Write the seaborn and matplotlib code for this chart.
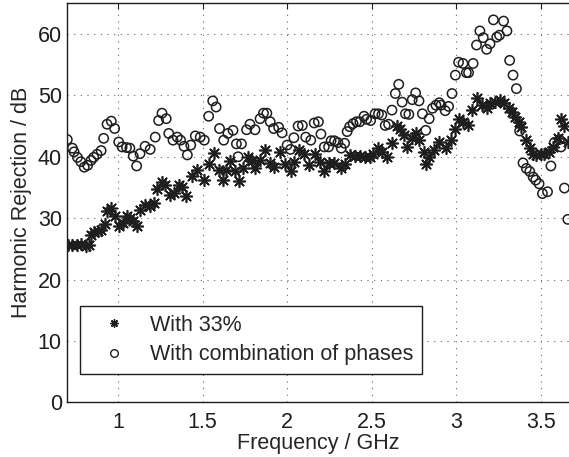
import numpy as np
import pandas as pd
import seaborn as sns
import matplotlib.pyplot as plt
from matplotlib.lines import Line2D

# Harmonic rejection
freq_33 = [0.705, 0.73, 0.76, 0.78, 0.81, 0.83, 0.84, 0.86, 0.88, 0.90, 0.92, 0.935, 0.96, 0.98,
           1.004, 1.03, 1.053, 1.07, 1.09, 1.11, 1.13, 1.16, 1.19, 1.21, 1.23, 1.26, 1.28, 1.305,
           1.33, 1.36, 1.38, 1.40, 1.437, 1.467, 1.506, 1.536, 1.565, 1.595, 1.62, 1.64, 1.66,
           1.69, 1.717, 1.74, 1.77, 1.79, 1.81, 1.84, 1.87, 1.90, 1.92, 1.96, 1.99, 2.02, 2.04,
           2.07, 2.10, 2.13, 2.165, 2.195, 2.22, 2.25, 2.28, 2.32, 2.34, 2.37, 2.40, 2.43, 2.46,
           2.49, 2.51, 2.54, 2.56, 2.59, 2.62, 2.65, 2.67, 2.69, 2.71, 2.74, 2.76, 2.78, 2.81,
           2.82, 2.84, 2.87, 2.90, 2.94, 2.97, 2.995, 3.014, 3.04, 3.07, 3.093, 3.12, 3.15, 3.18,
           3.20, 3.23, 3.26, 3.28, 3.31, 3.33, 3.35, 3.37, 3.385, 3.41, 3.435, 3.455, 3.47, 3.50,
           3.52, 3.55, 3.57, 3.60, 3.62, 3.64, 3.66]
rej_33 = [25.7, 25.7, 25.7, 25.8, 25.5, 25.6, 27.3, 27.7, 27.9, 28.0, 29.1, 31.1, 31.6, 30.3,
          28.8, 29.2, 30.3, 30.0, 29.5, 28.8, 31.4, 32.2, 31.9, 32.4, 34.8, 35.9, 35.4, 33.8,
          34.1, 35.4, 35.1, 33.6, 36.8, 37.8, 36.2, 38.9, 40.6, 37.8, 36.2, 37.9, 39.3,
          37.6, 36.1, 38.1, 39.9, 39.3, 38.1, 39.5, 41.1, 39.0, 38.4, 40.8, 38.9, 37.6, 39.2,
          41.1, 40.5, 38.6, 40.4, 39.2, 37.6, 39.0, 39.0, 38.1, 38.9, 40.3, 40.1, 40.1, 40.0,
          39.9, 40.4, 41.4, 40.7, 39.9, 42.3, 45.0, 44.6, 43.5, 41.6, 43.1, 43.9, 42.7, 40.8,
          38.8, 40.0, 41.1, 42.4, 41.4, 42.7, 44.6, 46.1, 45.7, 45.1, 47.6, 49.5, 48.4, 47.9,
          48.7, 48.9, 49.2, 48.7, 47.9, 47.3, 46.5, 45.7, 44.9, 42.7, 41.4, 40.5, 40.3, 40.4,
          40.5, 40.8, 41.6, 43.0, 46.2, 45.0, 42.4]

freq_comb = [0.70, 0.73, 0.74, 0.76, 0.78, 0.80, 0.82, 0.84, 0.856, 0.876, 0.90, 0.915, 0.935,
             0.96, 0.98, 1.004, 1.024, 1.05, 1.07, 1.09, 1.11, 1.13, 1.16, 1.19, 1.22, 1.24,
             1.26, 1.285, 1.30, 1.325, 1.35, 1.37, 1.39, 1.41, 1.43, 1.457, 1.486, 1.51, 1.536,
             1.56, 1.58, 1.60, 1.625, 1.65, 1.68, 1.70, 1.71, 1.73, 1.76, 1.78, 1.81, 1.84,
             1.86, 1.88, 1.90, 1.92, 1.95, 1.97, 2.00, 2.02, 2.04, 2.065, 2.09, 2.11, 2.14,
             2.16, 2.185, 2.20, 2.22, 2.245, 2.26, 2.28, 2.30, 2.32, 2.34, 2.355, 2.37, 2.39,
             2.41, 2.43, 2.455, 2.47, 2.494, 2.52, 2.54, 2.56, 2.58, 2.60, 2.62, 2.64, 2.66,
             2.68, 2.70, 2.72, 2.74, 2.76, 2.78, 2.80, 2.82, 2.84, 2.86, 2.88, 2.90, 2.91,
             2.935, 2.955, 2.975, 2.995, 3.014, 3.04, 3.06, 3.073, 3.10, 3.12, 3.14, 3.16,
             3.18, 3.20, 3.22, 3.24, 3.256, 3.28, 3.30, 3.316, 3.336, 3.356, 3.375, 3.395,
             3.415, 3.435, 3.455, 3.47, 3.49, 3.51, 3.54, 3.56, 3.58, 3.61, 3.62, 3.64, 3.66]
rej_comb = [42.8, 41.4, 40.8, 39.9, 39.2, 38.3, 38.6, 39.4, 39.9, 40.4, 41.0, 43.0, 45.3,
            45.8, 44.6, 42.4, 41.6, 41.5, 41.4, 40.1, 38.5, 40.5, 41.7, 41.2, 43.2, 45.9,
            47.1, 46.2, 43.8, 42.7, 43.2, 42.7, 41.7, 40.3, 41.9, 43.4, 43.2, 42.7, 46.6,
            49.1, 48.1, 44.6, 42.7, 43.8, 44.3, 42.1, 40.0, 42.1, 44.4, 45.3, 44.4, 46.2,
            47.1, 47.1, 45.7, 44.6, 44.8, 43.9, 41.9, 41.2, 43.1, 45.0, 45.1, 43.2, 42.7,
            45.5, 45.7, 43.7, 41.6, 41.6, 42.6, 42.6, 42.3, 41.4, 42.2, 44.1, 44.9, 45.4,
            45.7, 45.7, 46.6, 46.1, 45.9, 47.0, 47.0, 46.8, 45.1, 45.3, 47.6, 50.3, 51.8,
            48.9, 47.0, 46.9, 49.3, 50.4, 49.1, 47.0, 44.3, 46.2, 47.9, 48.4, 48.8, 48.4,
            47.5, 48.2, 50.3, 53.3, 55.4, 55.2, 53.7, 53.7, 55.2, 58.2, 60.5, 59.4,
            57.5, 58.4, 62.3, 59.5, 59.8, 62.1, 60.5, 55.7, 53.3, 51.1, 44.2, 39.0,
            38.1, 37.6, 36.7, 36.2, 35.6, 34.0, 34.3, 38.5, 42.3, 42.8, 41.6, 34.9, 29.8]

x_ticks = [1, 1.5, 2, 2.5, 3, 3.5]
x_tick_labels = ['1', '1.5', '2', '2.5', '3', '3.5']
y_ticks = [0, 10, 20, 30, 40, 50, 60]

df_33 = pd.DataFrame({'Frequency': freq_33, 'Rejection': rej_33})
df_comb = pd.DataFrame({'Frequency': freq_comb, 'Rejection': rej_comb})

sns.set_style('white')
plt.rcParams['font.family'] = ['Liberation Sans', 'DejaVu Sans']
plt.rcParams['font.size'] = 15.5

ink = '#1e1e1e'
fig = plt.figure(figsize=(5.69, 4.57), dpi=100)
ax = fig.add_axes([0.1183, 0.1197, 0.8817, 0.8731])

asterisk = (8, 2, 0)
sns.scatterplot(data=df_33, x='Frequency', y='Rejection', marker=asterisk, s=70,
                color=ink, edgecolor=ink, linewidth=1.2, ax=ax, zorder=3)
sns.scatterplot(data=df_comb, x='Frequency', y='Rejection', marker='o', s=45,
                facecolor='none', edgecolor=ink, linewidth=1.1, ax=ax, zorder=3)

ax.set_xlim(0.7, 3.667)
ax.set_ylim(0, 65)
ax.set_xticks(x_ticks)
ax.set_xticklabels(x_tick_labels)
ax.set_yticks(y_ticks)
ax.set_xlabel('Frequency / GHz', labelpad=0)
ax.set_ylabel('Harmonic Rejection / dB', labelpad=4)

ax.grid(True, linestyle=(0, (1, 5)), color='#666666', linewidth=0.8)
ax.tick_params(direction='in', length=4, width=0.8, color=ink, top=True, labelcolor=ink)
ax.tick_params(axis='x', pad=7)
ax.tick_params(axis='y', pad=4)
for side in ['left', 'bottom', 'top']:
    ax.spines[side].set_color(ink)
    ax.spines[side].set_linewidth(1.0)
ax.spines['right'].set_visible(False)

handles = [Line2D([], [], linestyle='none', marker=asterisk, markersize=6,
                  markeredgecolor=ink, markeredgewidth=1.0),
           Line2D([], [], linestyle='none', marker='o', markersize=5.5,
                  markerfacecolor='none', markeredgecolor=ink, markeredgewidth=1.0)]
leg = ax.legend(handles, ['With 33%', 'With combination of phases'], loc='lower left',
                bbox_to_anchor=(0.025, 0.071), fancybox=False, framealpha=1,
                edgecolor=ink, borderpad=0.4, labelspacing=0.4, handletextpad=0.45,
                handlelength=2.4, borderaxespad=0)
leg.get_frame().set_linewidth(1.0)

fig.savefig('out.png', dpi=100)
